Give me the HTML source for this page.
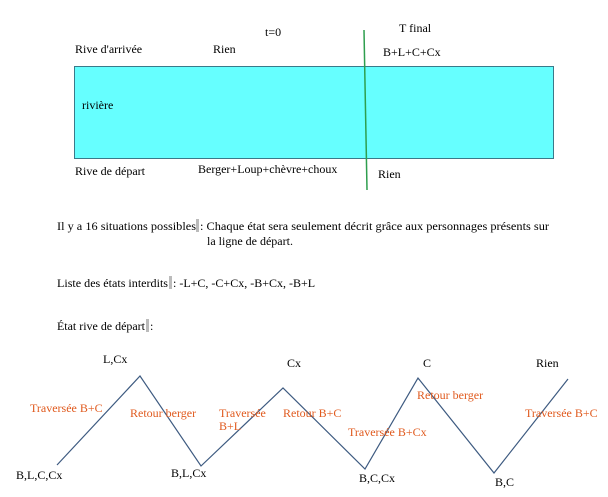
<!DOCTYPE html>
<html><head><meta charset="utf-8"><style>
body{margin:0;background:#fff;}
svg{display:block;font-family:"Liberation Serif",serif;}
</style></head><body>
<svg width="608" height="497" viewBox="0 0 608 497" xmlns="http://www.w3.org/2000/svg">
<rect x="74.5" y="66.5" width="479" height="92" fill="#66ffff" stroke="#3a7a8a" stroke-width="1"/>
<line x1="364" y1="30" x2="367" y2="190" stroke="#2e9e4e" stroke-width="1.5"/>
<g font-size="12" fill="#000">
<text x="265" y="36">t=0</text>
<text x="399" y="32">T final</text>
<text x="75" y="53">Rive d'arrivée</text>
<text x="213" y="53">Rien</text>
<text x="383" y="56">B+L+C+Cx</text>
<text x="82" y="109">rivière</text>
<text x="75" y="175">Rive de départ</text>
<text x="198" y="173">Berger+Loup+chèvre+choux</text>
<text x="378" y="178">Rien</text>
<text x="57" y="230" textLength="139" lengthAdjust="spacingAndGlyphs">Il y a 16 situations possibles</text>
<text x="200" y="230" textLength="349" lengthAdjust="spacingAndGlyphs">: Chaque état sera seulement décrit grâce aux personnages présents sur</text>
<text x="207" y="245">la ligne de départ.</text>
<text x="57" y="287" textLength="111" lengthAdjust="spacingAndGlyphs">Liste des états interdits</text>
<text x="173" y="287">:  -L+C,  -C+Cx, -B+Cx, -B+L</text>
<text x="57" y="330" textLength="88" lengthAdjust="spacingAndGlyphs">État rive de départ</text>
<text x="150" y="330">:</text>
<text x="103" y="363">L,Cx</text>
<text x="287" y="367">Cx</text>
<text x="423" y="367">C</text>
<text x="536" y="367">Rien</text>
<text x="16" y="479">B,L,C,Cx</text>
<text x="171" y="477">B,L,Cx</text>
<text x="359" y="482">B,C,Cx</text>
<text x="495" y="486">B,C</text>
</g>
<rect x="196" y="219" width="3" height="13" fill="#bbb"/>
<rect x="169" y="276" width="3" height="13" fill="#bbb"/>
<rect x="146" y="319" width="3" height="13" fill="#bbb"/>
<polyline points="57,465 140,376 201,466 283,388 365,469 418,378 494,473 568,379" fill="none" stroke="#3d5a80" stroke-width="1.2"/>
<g font-size="12" fill="#e05a1e">
<text x="30" y="412">Traversée B+C</text>
<text x="130" y="417">Retour berger</text>
<text x="219" y="417">Traversée</text>
<text x="219" y="430">B+L</text>
<text x="283" y="417">Retour B+C</text>
<text x="348" y="436">Traversée B+Cx</text>
<text x="417" y="399">Retour berger</text>
<text x="525" y="417">Traversée B+C</text>
</g>
</svg>
</body></html>
